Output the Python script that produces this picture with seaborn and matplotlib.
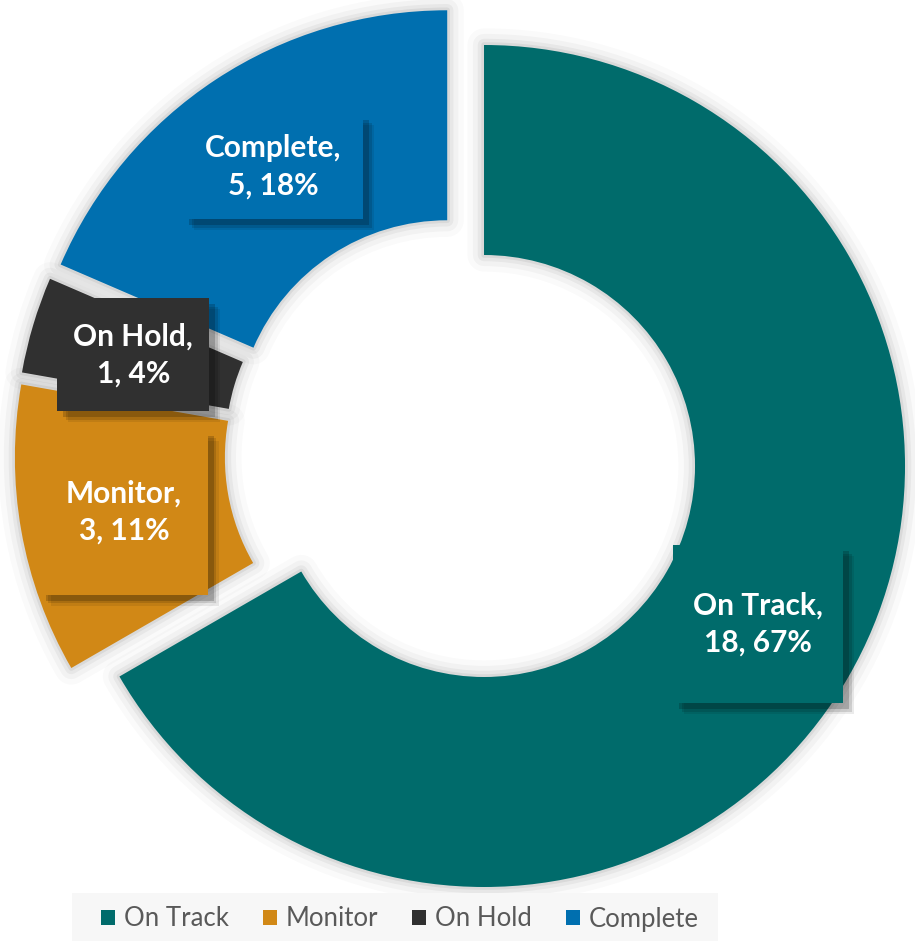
import matplotlib
matplotlib.use("Agg")
import matplotlib.pyplot as plt
import matplotlib.patheffects as pe
from matplotlib.patches import Rectangle, Patch
import seaborn as sns

# ---- data ----
categories = ["On Track", "Monitor", "On Hold", "Complete"]
counts = [18, 3, 1, 5]
pct_labels = [67, 11, 4, 18]
colors = ["#006B6B", "#D18816", "#303030", "#006FAF"]

sns.set_theme(style="white")
plt.rcParams["font.family"] = ["Lato", "DejaVu Sans"]

W, H = 915, 941
fig = plt.figure(figsize=(W / 100, H / 100), dpi=100)
ax = fig.add_axes([0, 0, 1, 1])

palette = sns.color_palette(colors)

center = (461.5, H - 453)
radius = 421
ring = 210
expl = [26] * len(counts)

# soft glow behind the wedges
for lw, a in [(24, 0.02), (16, 0.03), (9, 0.045), (4, 0.06)]:
    ax.pie(counts, radius=radius, center=center, startangle=90, counterclock=False,
           explode=expl,
           wedgeprops=dict(width=ring, facecolor="none", edgecolor=(0, 0, 0, a),
                           linewidth=lw, joinstyle="round", zorder=0))

label_iter = iter([f"{c},\n{n}, {p}%" for c, n, p in zip(categories, counts, pct_labels)])

wedges, texts, autotexts = ax.pie(
    counts, radius=radius, center=center, startangle=90, counterclock=False,
    explode=expl, colors=palette,
    wedgeprops=dict(width=ring, linewidth=0, zorder=2),
    autopct=lambda p: next(label_iter), pctdistance=0.752,
)

# label box sizes (px)
box_sizes = {"On Track": (170, 158), "Monitor": (168, 165),
             "On Hold": (152, 113), "Complete": (180, 105)}

shadow = [pe.SimplePatchShadow(offset=(o, -o), shadow_rgbFace="black", alpha=a)
          for o, a in [(8, 0.08), (6, 0.12), (4, 0.18)]] + [pe.Normal()]

for t, cat, col in zip(autotexts, categories, palette):
    t.set_color("white")
    t.set_fontweight("bold")
    t.set_fontsize(21.5)
    t.set_linespacing(1.4)
    t.set_ha("center")
    t.set_va("center")
    t.set_multialignment("center")
    t.set_zorder(6)
    x, y = t.get_position()
    bw, bh = box_sizes[cat]
    r = Rectangle((x - bw / 2, y - bh / 2), bw, bh, facecolor=col, edgecolor="none",
                  zorder=4)
    r.set_path_effects(shadow)
    ax.add_patch(r)

ax.set_xlim(0, W)
ax.set_ylim(0, H)
ax.set_aspect("equal")
ax.axis("off")

# legend band
fig.patches.append(Rectangle((72 / W, 0), (718 - 72) / W, (H - 893) / H,
                             transform=fig.transFigure, facecolor="#f7f7f7",
                             edgecolor="none", zorder=0))

handles = [Patch(facecolor=c, edgecolor="none", label=l) for c, l in zip(palette, categories)]
leg = fig.legend(handles=handles, loc="center", bbox_to_anchor=(400 / W, 1 - 919 / H),
                 ncol=4, frameon=False, fontsize=18.5, handlelength=0.56, handleheight=0.56,
                 handletextpad=0.35, columnspacing=1.3, borderaxespad=0)
for txt in leg.get_texts():
    txt.set_color("#595959")

fig.savefig("out.png", dpi=100)
